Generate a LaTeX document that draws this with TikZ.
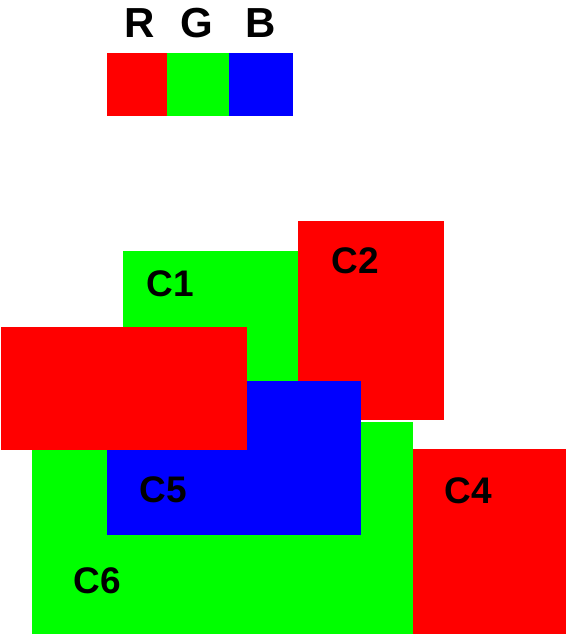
\documentclass[tikz,border=0pt]{standalone}
\usepackage{fontspec}
\setmainfont{Liberation Sans}
\definecolor{pr}{RGB}{255,0,0}
\definecolor{pg}{RGB}{0,255,0}
\definecolor{pb}{RGB}{0,0,255}
\begin{document}
\begin{tikzpicture}
[x=1pt,y=-1pt,every node/.style={font=\fontsize{37}{37}\selectfont\bfseries, inner sep=0pt}]
\useasboundingbox (0,0) rectangle (566,634);
% palette
\foreach \c/\name/\xa/\xb/\xl in {pr/R/107/167/140, pg/G/167/229/197, pb/B/229/293/261}
{
  \fill[\c] (\xa,53) rectangle (\xb,116);
  \node[font=\fontsize{42}{42}\selectfont\bfseries](\name) at (\xl,23) {\name};
}
% boxes, back to front
\fill[pg] (32,422) rectangle (413,634);
\fill[pg] (123,251) rectangle (299,400);
\fill[pr] (298,221) rectangle (444,420);
\fill[pb] (107,381) rectangle (361,535);
\fill[pr] (1,327) rectangle (247,450);
\fill[pr] (413,449) rectangle (566,634);
\node(c1) at (170,284) {C1};
\node(c2) at (355,261) {C2};
\node(c4) at (468,491) {C4};
\node(c5) at (163,490) {C5};
\node(c6) at (97,581) {C6};
\end{tikzpicture}
\end{document}
